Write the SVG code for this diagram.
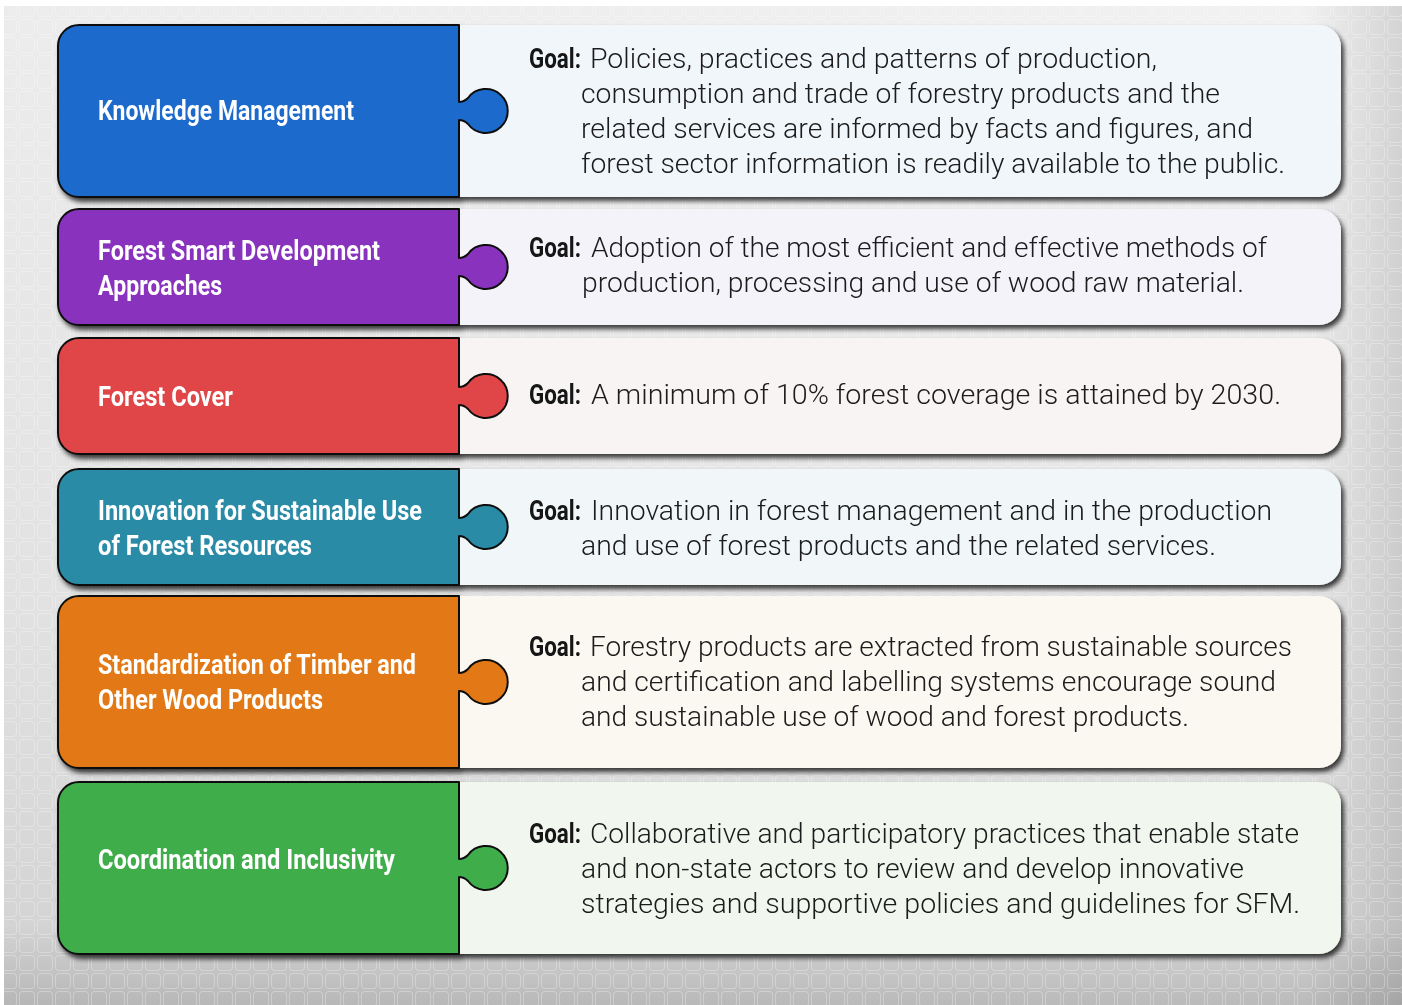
<svg xmlns="http://www.w3.org/2000/svg" width="1402" height="1005" viewBox="0 0 1402 1005">
  <style>
    .piece { stroke: #111; stroke-width: 2; stroke-linejoin: round; }
    .title { font-family: Roboto, "Liberation Sans", sans-serif; font-weight: 700; font-size: 28px; fill: #ffffff; }
    .goal { font-family: Roboto, "Liberation Sans", sans-serif; font-weight: 700; font-size: 27px; fill: #141414; }
    .body { font-family: Roboto, "Liberation Sans", sans-serif; font-weight: 300; font-size: 28px; fill: #1a1a1a; }
  </style>
  <defs>
    <linearGradient id="bgV" x1="0" y1="0" x2="0" y2="1">
      <stop offset="0" stop-color="#f1f1f1"/>
      <stop offset="0.6" stop-color="#e6e6e6"/>
      <stop offset="0.92" stop-color="#d8d8d8"/>
      <stop offset="1" stop-color="#bababa"/>
    </linearGradient>
    <linearGradient id="bgH" x1="0" y1="0" x2="1" y2="0">
      <stop offset="0" stop-color="#000" stop-opacity="0.02"/>
      <stop offset="0.93" stop-color="#000" stop-opacity="0"/>
      <stop offset="1" stop-color="#000" stop-opacity="0.12"/>
    </linearGradient>
    <pattern id="tiles" width="18" height="18" patternUnits="userSpaceOnUse">
      <rect x="1.5" y="1.5" width="15" height="15" rx="3" fill="none" stroke="#ffffff" stroke-opacity="0.28" stroke-width="1"/>
    </pattern>
    <filter id="shadow" x="-5%" y="-10%" width="112%" height="130%">
      <feDropShadow dx="3" dy="4" stdDeviation="2.5" flood-color="#000" flood-opacity="0.75"/>
    </filter>
  </defs>

  <!-- backdrop panel -->
  <rect x="0" y="0" width="1402" height="1005" fill="#ffffff"/>
  <rect x="4" y="6" width="1398" height="999" fill="url(#bgV)"/>
  <rect x="4" y="6" width="1398" height="999" fill="url(#bgH)"/>
  <rect x="4" y="6" width="1398" height="999" fill="url(#tiles)"/>

  <!-- Knowledge Management -->
  <g id="row-knowledge" filter="url(#shadow)">
    <path d="M440,25 H1319 A22 22 0 0 1 1341,47 V175 A22 22 0 0 1 1319,197 H440 Z" fill="#f1f6fb"/>
    <path class="piece" fill="#1a6bcc" d="M79,25 H459 V102 C463,102 465,101 468,98 A22 22 0 1 1 468,124 C465,121 463,120 459,120 V197 H79 A21 21 0 0 1 58,176 V46 A21 21 0 0 1 79,25 Z"/>
    <text class="title" x="98" y="120" textLength="256" lengthAdjust="spacingAndGlyphs">Knowledge Management</text>
    <text class="goal" x="529" y="68" textLength="52" lengthAdjust="spacingAndGlyphs">Goal:</text>
    <text class="body" x="590" y="68" textLength="567" lengthAdjust="spacingAndGlyphs">Policies, practices and patterns of production,</text>
    <text class="body" x="581" y="103" textLength="639" lengthAdjust="spacingAndGlyphs">consumption and trade of forestry products and the</text>
    <text class="body" x="581" y="138" textLength="672" lengthAdjust="spacingAndGlyphs">related services are informed by facts and figures, and</text>
    <text class="body" x="581" y="173" textLength="704" lengthAdjust="spacingAndGlyphs">forest sector information is readily available to the public.</text>
  </g>

  <!-- Forest Smart Development Approaches -->
  <g id="row-smart" filter="url(#shadow)">
    <path d="M440,209 H1319 A22 22 0 0 1 1341,231 V303 A22 22 0 0 1 1319,325 H440 Z" fill="#f5f3fa"/>
    <path class="piece" fill="#8833be" d="M79,209 H459 V258 C463,258 465,257 468,254 A22 22 0 1 1 468,280 C465,277 463,276 459,276 V325 H79 A21 21 0 0 1 58,304 V230 A21 21 0 0 1 79,209 Z"/>
    <text class="title" x="98" y="260" textLength="282" lengthAdjust="spacingAndGlyphs">Forest Smart Development</text>
    <text class="title" x="98" y="295" textLength="124" lengthAdjust="spacingAndGlyphs">Approaches</text>
    <text class="goal" x="529" y="257" textLength="52" lengthAdjust="spacingAndGlyphs">Goal:</text>
    <text class="body" x="591" y="257" textLength="676" lengthAdjust="spacingAndGlyphs">Adoption of the most efficient and effective methods of</text>
    <text class="body" x="582" y="292" textLength="662" lengthAdjust="spacingAndGlyphs">production, processing and use of wood raw material.</text>
  </g>

  <!-- Forest Cover -->
  <g id="row-cover" filter="url(#shadow)">
    <path d="M440,338 H1319 A22 22 0 0 1 1341,360 V432 A22 22 0 0 1 1319,454 H440 Z" fill="#f9f4f4"/>
    <path class="piece" fill="#e04546" d="M79,338 H459 V387 C463,387 465,386 468,383 A22 22 0 1 1 468,409 C465,406 463,405 459,405 V454 H79 A21 21 0 0 1 58,433 V359 A21 21 0 0 1 79,338 Z"/>
    <text class="title" x="98" y="406" textLength="135" lengthAdjust="spacingAndGlyphs">Forest Cover</text>
    <text class="goal" x="529" y="404" textLength="52" lengthAdjust="spacingAndGlyphs">Goal:</text>
    <text class="body" x="591" y="404" textLength="690" lengthAdjust="spacingAndGlyphs">A minimum of 10% forest coverage is attained by 2030.</text>
  </g>

  <!-- Innovation for Sustainable Use of Forest Resources -->
  <g id="row-innovation" filter="url(#shadow)">
    <path d="M440,469 H1319 A22 22 0 0 1 1341,491 V563 A22 22 0 0 1 1319,585 H440 Z" fill="#f1f7f8"/>
    <path class="piece" fill="#2a8ba6" d="M79,469 H459 V518 C463,518 465,517 468,514 A22 22 0 1 1 468,540 C465,537 463,536 459,536 V585 H79 A21 21 0 0 1 58,564 V490 A21 21 0 0 1 79,469 Z"/>
    <text class="title" x="98" y="520" textLength="324" lengthAdjust="spacingAndGlyphs">Innovation for Sustainable Use</text>
    <text class="title" x="98" y="555" textLength="214" lengthAdjust="spacingAndGlyphs">of Forest Resources</text>
    <text class="goal" x="529" y="520" textLength="52" lengthAdjust="spacingAndGlyphs">Goal:</text>
    <text class="body" x="591" y="520" textLength="681" lengthAdjust="spacingAndGlyphs">Innovation in forest management and in the production</text>
    <text class="body" x="581" y="555" textLength="635" lengthAdjust="spacingAndGlyphs">and use of forest products and the related services.</text>
  </g>

  <!-- Standardization of Timber and Other Wood Products -->
  <g id="row-standards" filter="url(#shadow)">
    <path d="M440,596 H1319 A22 22 0 0 1 1341,618 V746 A22 22 0 0 1 1319,768 H440 Z" fill="#fbf7f1"/>
    <path class="piece" fill="#e37813" d="M79,596 H459 V673 C463,673 465,672 468,669 A22 22 0 1 1 468,695 C465,692 463,691 459,691 V768 H79 A21 21 0 0 1 58,747 V617 A21 21 0 0 1 79,596 Z"/>
    <text class="title" x="98" y="674" textLength="318" lengthAdjust="spacingAndGlyphs">Standardization of Timber and</text>
    <text class="title" x="98" y="709" textLength="225" lengthAdjust="spacingAndGlyphs">Other Wood Products</text>
    <text class="goal" x="529" y="656" textLength="52" lengthAdjust="spacingAndGlyphs">Goal:</text>
    <text class="body" x="590" y="656" textLength="702" lengthAdjust="spacingAndGlyphs">Forestry products are extracted from sustainable sources</text>
    <text class="body" x="581" y="691" textLength="695" lengthAdjust="spacingAndGlyphs">and certification and labelling systems encourage sound</text>
    <text class="body" x="581" y="726" textLength="608" lengthAdjust="spacingAndGlyphs">and sustainable use of wood and forest products.</text>
  </g>

  <!-- Coordination and Inclusivity -->
  <g id="row-coordination" filter="url(#shadow)">
    <path d="M440,782 H1319 A22 22 0 0 1 1341,804 V932 A22 22 0 0 1 1319,954 H440 Z" fill="#f1f6ef"/>
    <path class="piece" fill="#40ad4c" d="M79,782 H459 V859 C463,859 465,858 468,855 A22 22 0 1 1 468,881 C465,878 463,877 459,877 V954 H79 A21 21 0 0 1 58,933 V803 A21 21 0 0 1 79,782 Z"/>
    <text class="title" x="98" y="869" textLength="297" lengthAdjust="spacingAndGlyphs">Coordination and Inclusivity</text>
    <text class="goal" x="529" y="843" textLength="52" lengthAdjust="spacingAndGlyphs">Goal:</text>
    <text class="body" x="590" y="843" textLength="709" lengthAdjust="spacingAndGlyphs">Collaborative and participatory practices that enable state</text>
    <text class="body" x="581" y="878" textLength="663" lengthAdjust="spacingAndGlyphs">and non-state actors to review and develop innovative</text>
    <text class="body" x="581" y="913" textLength="719" lengthAdjust="spacingAndGlyphs">strategies and supportive policies and guidelines for SFM.</text>
  </g>

  <!-- no connectors: the puzzle tabs join each title to its goal -->
  <g id="connectors"/>
</svg>
